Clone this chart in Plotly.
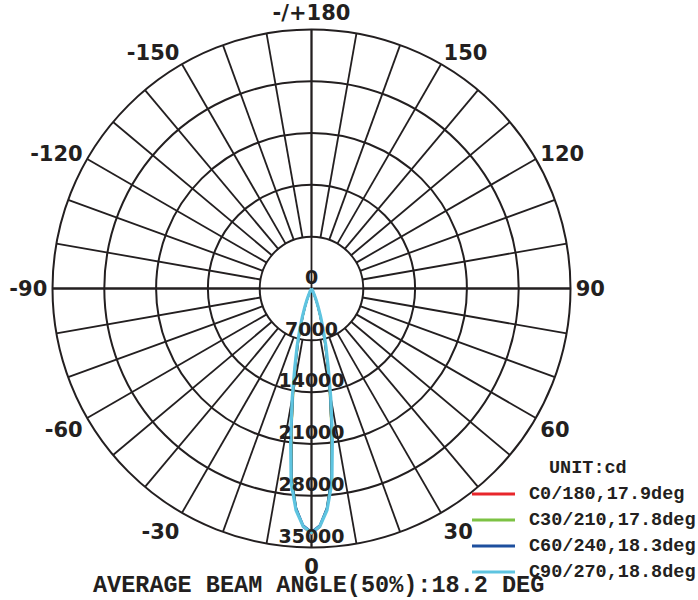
import plotly.graph_objects as go

# ---- data ----
gamma_half = [0, 2, 4, 6, 8, 10, 12, 14, 16, 18, 20, 22, 24, 26, 28, 30, 32]
c0_half  = [33200, 32270, 29850, 25630, 19360, 14070, 10110, 7320, 5080, 3390, 2160, 1290, 700, 330, 140, 30, 0]
c30_half = [33100, 32150, 29720, 25440, 19160, 13900, 9980, 7210, 4970, 3310, 2100, 1260, 670, 300, 125, 15, 0]
c60_half = [32900, 32020, 29740, 25830, 19650, 14410, 10400, 7620, 5370, 3630, 2370, 1450, 830, 400, 180, 60, 0]
c90_half = [33000, 32180, 30030, 26400, 20300, 15020, 10890, 8090, 5780, 3960, 2640, 1650, 990, 500, 230, 100, 0]

series_names = ["C0/180,17.9deg", "C30/210,17.8deg", "C60/240,18.3deg", "C90/270,18.8deg"]
series_colors = ["#e8262b", "#7cc243", "#1d4f9e", "#5ec4e0"]
series_widths = [1.8, 1.8, 2.2, 3.2]

radial_ticks = [0, 7000, 14000, 21000, 28000, 35000]
angle_tickvals = [0, 30, 60, 90, 120, 150, 180, 210, 240, 270, 300, 330]
angle_ticktext = ["0", "30", "60", "90", "120", "150", "-/+180", "-150", "-120", "-90", "-60", "-30"]
spoke_step = 10

GRID = "#231f20"
W, H = 698, 600

def mirror(half_vals):
    return list(reversed(half_vals[1:])) + list(half_vals)

theta_full = [-g for g in reversed(gamma_half[1:])] + list(gamma_half)

fig = go.Figure()

# spokes from first ring to outer ring
sp_r, sp_t = [], []
for a in range(0, 360, spoke_step):
    sp_r += [radial_ticks[1], radial_ticks[-1], None]
    sp_t += [a, a, None]
# full cross through the centre
for a in (0, 90, 180, 270):
    sp_r += [0, radial_ticks[-1], None]
    sp_t += [a, a, None]
fig.add_trace(go.Scatterpolar(r=sp_r, theta=sp_t, mode="lines",
                              line=dict(color=GRID, width=1.8),
                              hoverinfo="skip", showlegend=False))

for i, half in enumerate([c0_half, c30_half, c60_half, c90_half]):
    fig.add_trace(go.Scatterpolar(r=mirror(half), theta=theta_full, mode="lines",
                                  name=series_names[i], showlegend=False,
                                  line=dict(color=series_colors[i], width=series_widths[i])))

# radial labels along the 0 direction
fig.add_trace(go.Scatterpolar(r=radial_ticks, theta=[0] * len(radial_ticks), mode="text",
                              text=[str(v) for v in radial_ticks], textposition="top center",
                              textfont=dict(family="DejaVu Sans", size=19, color=GRID, weight="bold"),
                              hoverinfo="skip", showlegend=False))

# legend drawn as shapes + text (built from series lists)
legend_font = dict(family="Liberation Mono", size=18.5, color=GRID, weight="bold")
leg_top, leg_step = 494, 26
shapes, annotations = [], []
for i, (nm, col) in enumerate(zip(series_names, series_colors)):
    yp = 1 - (leg_top + i * leg_step) / H
    shapes.append(dict(type="line", xref="paper", yref="paper",
                       x0=472 / W, x1=515 / W, y0=yp, y1=yp,
                       line=dict(color=col, width=3)))
    annotations.append(dict(text=nm, x=527 / W, y=yp, xref="paper", yref="paper",
                            showarrow=False, xanchor="left", yanchor="middle", font=legend_font))

annotations += [
    dict(text="UNIT:cd", x=588 / W, y=1 - 468 / H, xref="paper", yref="paper",
         showarrow=False, xanchor="center", yanchor="middle", font=legend_font),
    dict(text="AVERAGE BEAM ANGLE(50%):18.2 DEG", x=318 / W, y=0,
         xref="paper", yref="paper", showarrow=False, xanchor="center", yanchor="bottom",
         borderpad=0,
         font=dict(family="Liberation Mono", size=23.5, color=GRID, weight="bold")),
]

fig.update_layout(
    width=W, height=H,
    margin=dict(l=0, r=0, t=0, b=0),
    paper_bgcolor="white", plot_bgcolor="white",
    showlegend=False,
    polar=dict(
        domain=dict(x=[52.5 / W, 570.5 / W], y=[1 - 547.5 / H, 1 - 29.5 / H]),
        bgcolor="white",
        radialaxis=dict(range=[0, 35000], tickvals=radial_ticks[1:], showticklabels=False,
                        ticks="", showline=False, showgrid=True,
                        gridcolor=GRID, gridwidth=1.8),
        angularaxis=dict(rotation=-90, direction="counterclockwise",
                         tickvals=angle_tickvals, ticktext=angle_ticktext,
                         showgrid=False, ticks="", showline=True,
                         linecolor=GRID, linewidth=2,
                         tickfont=dict(family="DejaVu Sans", size=21, color=GRID, weight="bold")),
    ),
    shapes=shapes,
    annotations=annotations,
)

fig.write_html("out.html", config={"displayModeBar": False},
               post_script="document.body.style.margin='0px';")
